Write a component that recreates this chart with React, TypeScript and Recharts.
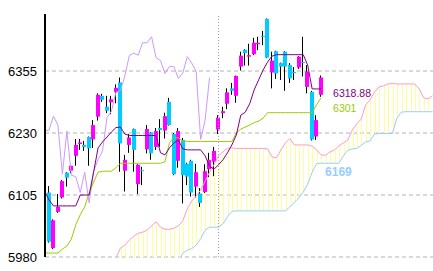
import React from 'react';
import {
  ComposedChart,
  Bar,
  Line,
  XAxis,
  YAxis,
  CartesianGrid,
  ReferenceLine,
  ReferenceDot
} from 'recharts';

// daily candles (index 0 is the partly hidden one at the axis)
const OPEN = [
  6161, 6110, 5998, 6071, 6100, 6150, 6154, 6184, 6208, 6206,
  6222, 6217, 6263, 6305, 6283, 6292, 6313, 6332, 6154, 6206,
  6238, 6127, 6155, 6197, 6231, 6202, 6240, 6235, 6293, 6228,
  6174, 6216, 6168, 6174, 6122, 6108, 6111, 6157, 6172, 6237,
  6270, 6289, 6320, 6305, 6364, 6398, 6384, 6389, 6409, 6426,
  6460, 6352, 6395, 6371, 6394, 6367, 6353, 6362, 6373, 6323,
  6313, 6223, 6307
];
const HIGH = [
  6172, 6123, 6056, 6107, 6135, 6151, 6165, 6218, 6218, 6214,
  6223, 6256, 6310, 6309, 6305, 6305, 6328, 6342, 6186, 6228,
  6239, 6167, 6162, 6246, 6232, 6240, 6258, 6271, 6301, 6230,
  6240, 6220, 6170, 6176, 6168, 6119, 6167, 6190, 6202, 6266,
  6283, 6320, 6331, 6346, 6394, 6399, 6410, 6422, 6424, 6436,
  6461, 6394, 6396, 6372, 6395, 6371, 6363, 6385, 6424, 6367,
  6315, 6266, 6346
];
const LOW = [
  6159, 6009, 5996, 6069, 6098, 6122, 6149, 6164, 6196, 6194,
  6164, 6200, 6255, 6293, 6270, 6268, 6290, 6152, 6112, 6190,
  6152, 6107, 6125, 6189, 6176, 6196, 6202, 6219, 6245, 6145,
  6160, 6088, 6125, 6102, 6100, 6081, 6109, 6141, 6143, 6228,
  6260, 6278, 6307, 6291, 6356, 6366, 6366, 6387, 6397, 6407,
  6381, 6320, 6339, 6337, 6315, 6331, 6337, 6359, 6344, 6310,
  6215, 6216, 6303
];
const CLOSE = [
  6170, 6011, 6054, 6081, 6133, 6140, 6164, 6206, 6211, 6202,
  6199, 6246, 6307, 6297, 6275, 6298, 6321, 6209, 6176, 6221,
  6196, 6166, 6153, 6238, 6189, 6234, 6236, 6264, 6246, 6147,
  6234, 6145, 6142, 6110, 6151, 6089, 6153, 6176, 6194, 6261,
  6274, 6312, 6315, 6345, 6386, 6391, 6387, 6412, 6412, 6424,
  6382, 6376, 6350, 6364, 6364, 6340, 6351, 6384, 6371, 6354,
  6217, 6256, 6342
];

// 転換線 / 基準線
const TENKAN = [
  6113, 6095, 6083, 6083, 6083, 6083, 6083, 6083, 6105, 6105,
  6105, 6151, 6200, 6212, 6222, 6232, 6241, 6242, 6228, 6225,
  6225, 6225, 6225, 6225, 6225, 6225, 6190, 6186, 6200, 6210,
  6216, 6198, 6196, 6196, 6196, 6196, 6184, 6163, 6157, 6166,
  6176, 6190, 6206, 6226, 6266, 6272, 6289, 6317, 6337, 6357,
  6373, 6385, 6388, 6388, 6388, 6388, 6388, 6388, 6388, 6367,
  6319, 6318.88, 6318.88
];
const KIJUN = [
  5988, 5988, 5988, 5988, 5996, 6002, 6016, 6045, 6065, 6081,
  6109, 6131, 6151, 6153, 6153, 6153, 6160, 6169, 6169, 6169,
  6169, 6169, 6169, 6169, 6169, 6169, 6169, 6172, 6210, 6221,
  6220, 6214, 6213, 6213, 6213, 6213, 6213, 6213, 6213, 6213,
  6213, 6213, 6213, 6230, 6238, 6242, 6246, 6251, 6254, 6260,
  6271, 6271, 6271, 6271, 6271, 6271, 6271, 6271, 6271, 6271,
  6271, 6287, 6301
];
// 遅行スパン
const CHIKOU = [
  6234, 6236, 6264, 6246, 6147, 6234, 6145, 6142, 6110, 6151,
  6089, 6153, 6176, 6194, 6261, 6274, 6312, 6315, 6345, 6386,
  6391, 6387, 6412, 6412, 6424, 6382, 6376, 6350, 6364, 6364,
  6340, 6351, 6384, 6371, 6354, 6217, 6256, 6342
];
// 先行スパン1 / 2 (null = off the chart)
const SPAN_A = [
  null, null, null, null, null, null, null, null, null, null,
  null, null, null, null, null, null, 5978, 5998, 6004, 6014,
  6022, 6028, 6030, 6034, 6043, 6051, 6040, 6036, 6036, 6038,
  6043, 6053, 6077, 6093, 6103, 6115, 6133, 6151, 6166, 6184,
  6192, 6199, 6200, 6199, 6199, 6199, 6199, 6199, 6199, 6199,
  6198, 6182, 6180, 6196, 6210, 6219, 6206, 6206, 6206, 6206,
  6204, 6196, 6186, 6185, 6192, 6196, 6204, 6210, 6216, 6236,
  6248, 6258, 6287, 6297, 6313, 6323, 6325, 6329, 6330, 6329,
  6329, 6329, 6329, 6329, 6319, 6301, 6299, 6305
];
const SPAN_B = [
  null, null, null, null, null, null, null, null, null, null,
  null, null, null, null, null, null, null, null, null, null,
  null, null, null, null, null, null, null, null, null, null,
  5970, 5988, 5994, 5997, 6004, 6017, 6034, 6040, 6040, 6040,
  6047, 6061, 6072, 6073, 6073, 6073, 6073, 6073, 6073, 6073,
  6073, 6073, 6073, 6073, 6073, 6081, 6090, 6099, 6111, 6127,
  6151, 6168, 6169, 6169, 6169, 6169, 6169, 6184, 6195, 6198,
  6199, 6205, 6212, 6214, 6228, 6229, 6229, 6229, 6229, 6260,
  6272, 6273, 6273, 6273, 6273, 6273, 6273, 6273
];

const Y_TICKS = [5980, 6105, 6230, 6355];
const Y_MIN = 5980;
const Y_MAX = 6470;
const MONTH_START = 39;
const LAST = OPEN.length - 1;

const rows = SPAN_A.map((a, i) => ({
  i,
  open: OPEN[i] ?? null,
  high: HIGH[i] ?? null,
  low: LOW[i] ?? null,
  close: CLOSE[i] ?? null,
  range: HIGH[i] != null ? [LOW[i], HIGH[i]] : null,
  tenkan: TENKAN[i] ?? null,
  kijun: KIJUN[i] ?? null,
  chikou: CHIKOU[i] ?? null,
  spanA: a,
  spanB: SPAN_B[i],
  cloud: a != null ? [SPAN_B[i] ?? Y_MIN - 50, a] : null
}));

const Candle = (p: any) => {
  const d = p.payload;
  if (!d || d.high == null) return null;
  const top = Math.min(p.y, p.y + p.height);
  const h = Math.abs(p.height);
  const k = h / (d.high - d.low);
  const left = Math.round(p.x + p.width / 2 - 2);
  const bodyTop = top + (d.high - Math.max(d.open, d.close)) * k;
  const bodyH = Math.max(1, Math.abs(d.open - d.close) * k);
  return (
    <g>
      <line x1={left + 1.5} x2={left + 1.5} y1={top} y2={top + h} stroke="#000" />
      <rect x={left} y={bodyTop} width={4} height={bodyH} fill={d.close >= d.open ? '#ff00ff' : '#00ccff'} />
    </g>
  );
};

const Hatch = (p: any) => {
  if (p.height == null) return null;
  const top = Math.min(p.y, p.y + p.height);
  return <rect x={Math.round(p.x + p.width / 2)} y={top} width={1} height={Math.abs(p.height)} fill="#ffff99" />;
};

const App: React.FC = () => {
  return (
    <div style={{ position: 'absolute', left: 0, top: 0, fontFamily: '"Liberation Sans", Arial, sans-serif' }}>
      <ComposedChart width={433} height={271} data={rows} margin={{ top: 14, right: 0, bottom: 14, left: 0 }}>
        <XAxis xAxisId="c" dataKey="i" type="number" domain={[0.1, 87.1]} allowDataOverflow hide />
        <XAxis xAxisId="h" dataKey="i" type="number" domain={[0.1, 87.1]} allowDataOverflow hide />
        <YAxis
          domain={[Y_MIN, Y_MAX]}
          ticks={Y_TICKS}
          allowDataOverflow
          width={45}
          tickLine={false}
          axisLine={{ stroke: '#000', strokeWidth: 2 }}
          tick={{ fill: '#000', fontSize: 13 }}
        />
        <CartesianGrid
          xAxisId="c"
          vertical={false}
          horizontalValues={Y_TICKS}
          stroke="#b4b4b4"
          strokeDasharray="4 3"
        />
        <Bar xAxisId="h" dataKey="cloud" barSize={1} shape={Hatch} isAnimationActive={false} />
        <Line xAxisId="c" dataKey="spanA" stroke="#ff99cc" dot={false} isAnimationActive={false} />
        <Line xAxisId="c" dataKey="spanB" stroke="#99ccff" dot={false} isAnimationActive={false} />
        <ReferenceLine xAxisId="c" x={MONTH_START} stroke="#b48ce6" strokeDasharray="1 2" />
        <Line xAxisId="c" dataKey="chikou" stroke="#cc99ff" dot={false} isAnimationActive={false} />
        <Bar xAxisId="c" dataKey="range" barSize={4} shape={Candle} isAnimationActive={false} />
        <Line xAxisId="c" dataKey="kijun" stroke="#99cc00" dot={false} isAnimationActive={false} />
        <Line xAxisId="c" dataKey="tenkan" stroke="#800080" dot={false} isAnimationActive={false} />
        <ReferenceDot
          xAxisId="c"
          x={LAST}
          y={TENKAN[LAST]}
          r={0}
          shape={(p: any) => (
            <text x={p.cx + 12} y={p.cy + 8} fill="#800080" fontSize={10.5}>
              {TENKAN[LAST].toFixed(2)}
            </text>
          )}
        />
        <ReferenceDot
          xAxisId="c"
          x={LAST}
          y={KIJUN[LAST]}
          r={0}
          shape={(p: any) => (
            <text x={p.cx + 12} y={p.cy + 14} fill="#99cc00" fontSize={10.5}>
              {KIJUN[LAST]}
            </text>
          )}
        />
        <ReferenceDot
          xAxisId="c"
          x={LAST}
          y={SPAN_B[LAST] as number}
          r={0}
          shape={(p: any) => (
            <text x={p.cx + 4} y={p.cy + 13} fill="#99ccff" fontSize={12} fontWeight="bold">
              {SPAN_B[LAST]}
            </text>
          )}
        />
      </ComposedChart>
    </div>
  );
};

export default App;
